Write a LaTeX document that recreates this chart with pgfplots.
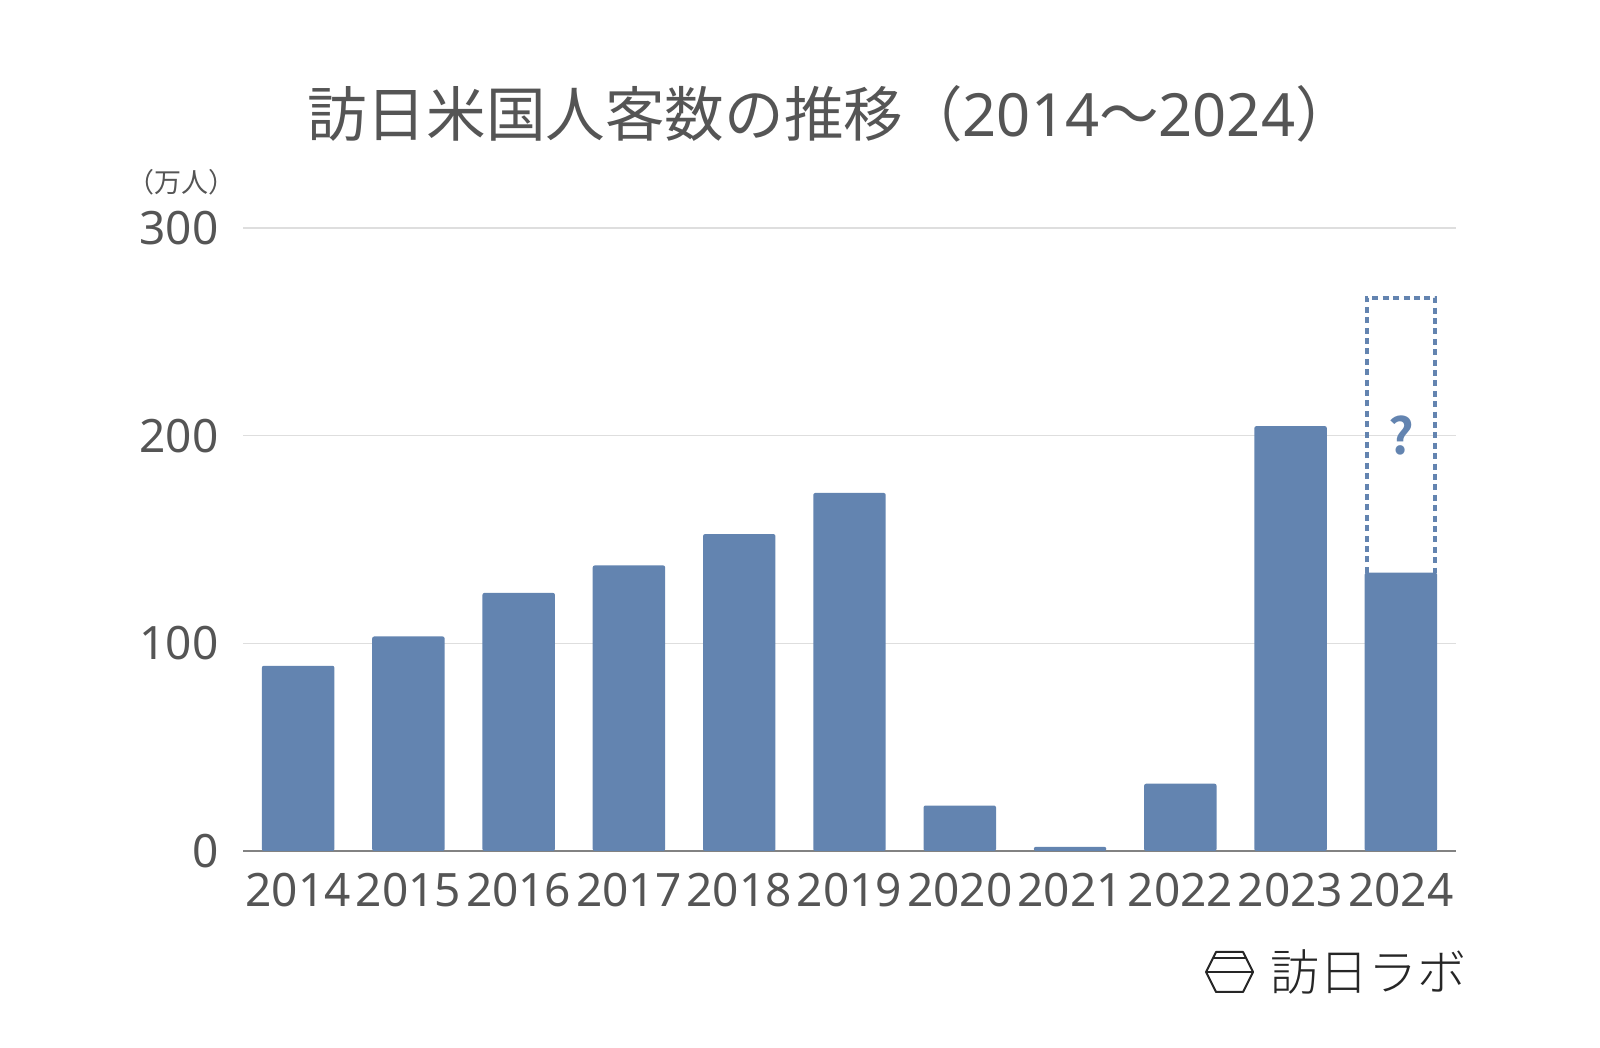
\documentclass[border=0pt]{standalone}
\usepackage{fontspec}
\setmainfont{Noto Sans CJK JP}
\newfontfamily\logofont{Noto Sans CJK JP}[UprightFont=* Light]
\newfontfamily\boldfont{Noto Sans CJK JP}[UprightFont=* Bold]
\newfontfamily\numfont{Noto Sans}
\usepackage{pgfplots}
\pgfplotsset{compat=1.18}
\definecolor{barblue}{RGB}{99,132,176}
\definecolor{txtgray}{RGB}{85,85,85}
\definecolor{gridgray}{RGB}{222,222,222}
\definecolor{axisgray}{RGB}{130,130,130}
\begin{document}
\begin{tikzpicture}[x=0.5pt,y=0.5pt]
\path[use as bounding box] (0,0) rectangle (1600,1048);
\begin{axis}[
  at={(121.5pt,98.5pt)}, anchor=south west,
  scale only axis, width=606.5pt, height=311.5pt,
  xmin=-0.5, xmax=10.5, ymin=0, ymax=300,
  ytick={0,100,200,300},
  xtick={0,...,10},
  xticklabels={2014,2015,2016,2017,2018,2019,2020,2021,2022,2023,2024},
  /pgf/number format/assume math mode=true,
  axis x line*=bottom, axis y line*=left,
  x axis line style={draw=axisgray, line width=0.8pt, -},
  y axis line style={draw=none},
  ymajorgrids, grid style={draw=gridgray, line width=0.6pt},
  major tick length=0pt,
  tick style={draw=none},
  xticklabel style={font=\numfont\fontsize{23}{26}\selectfont, text=txtgray, inner sep=0pt, anchor=north, yshift=-11pt},
  yticklabel style={font=\numfont\fontsize{23}{26}\selectfont, text=txtgray, inner sep=0pt, anchor=east, xshift=-12pt},
  clip=false,
]
\addplot[ybar, bar width=0.657, fill=barblue, draw=none, rounded corners=1pt] coordinates {
 (0,89.2) (1,103.3) (2,124.3) (3,137.5) (4,152.6) (5,172.4) (6,21.9) (7,2.0) (8,32.4) (9,204.6) (10,134)
};
\addplot[barblue, line width=2pt, dash pattern=on 3pt off 2.2pt] coordinates {
 (9.69,134) (9.69,266.5) (10.31,266.5) (10.31,134)
};
\node[font=\boldfont\fontsize{25}{28}\selectfont, text=barblue] at (axis cs:10,200) {?};
\end{axis}
\node[font=\fontsize{29.8}{33}\selectfont, text=txtgray] at (831,934) {訪日米国人客数の推移（{\numfont 2014}〜{\numfont 2024}）};
\node[font=\fontsize{13.5}{15}\selectfont, text=txtgray] at (181,866) {（万人）};
% logo
\draw[black!85, line width=1pt, line join=round] (1216,96) -- (1243,96) -- (1253,76) -- (1243,56) -- (1216,56) -- (1206,76) -- cycle;
\draw[black!85, line width=1pt] (1212.7,89.5) -- (1246.3,89.5);
\draw[black!85, line width=1pt] (1206,76) -- (1253,76);
\node[anchor=west, inner sep=0pt, font=\logofont\fontsize{24.5}{28}\selectfont, text=black!85] at (1270,76) {訪日ラボ};
\end{tikzpicture}
\end{document}
